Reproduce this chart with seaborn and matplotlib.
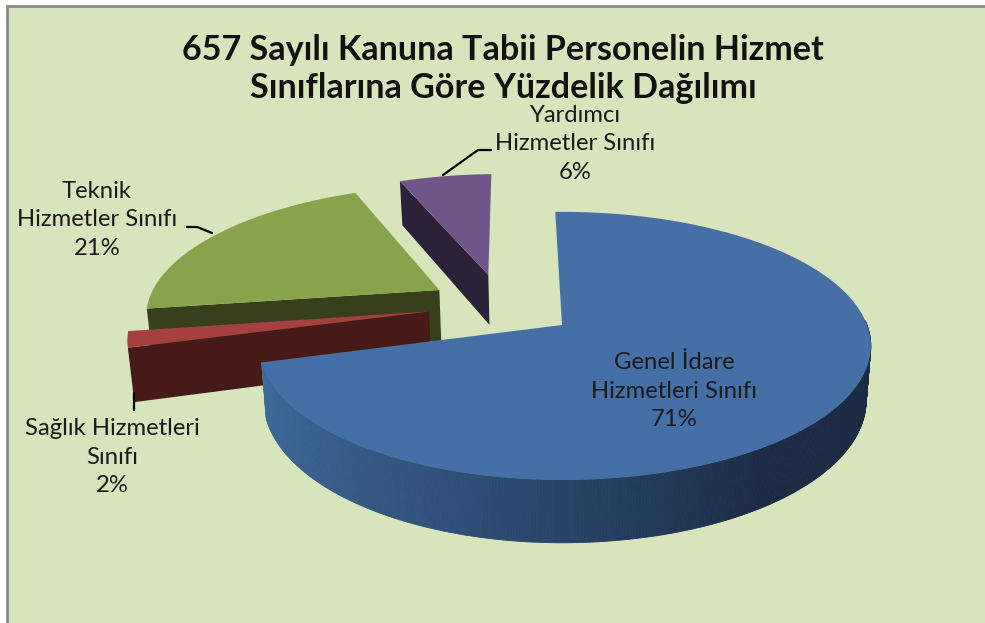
import numpy as np
import matplotlib
matplotlib.use('Agg')
import matplotlib.pyplot as plt
import seaborn as sns

# values in pie order, clockwise from the top
labels = ['Genel İdare\nHizmetleri Sınıfı', 'Sağlık Hizmetleri\nSınıfı', 'Teknik\nHizmetler Sınıfı', 'Yardımcı\nHizmetler Sınıfı']
values = [71, 2, 21, 6]
title = '657 Sayılı Kanuna Tabii Personelin Hizmet\nSınıflarına Göre Yüzdelik Dağılımı'

top_colors = ['#4470A6', '#A5403E', '#87A34C', '#705589']
side_colors = ['#3D6A9A', '#451A17', '#373F1B', '#2B2138']
explode = [(0, 0), (-0.452, 0.105), (-0.428, 0.279), (-0.262, 0.4065)]
label_pos = [(674, 391), (112, 457), (97, 220), (575, 144)]
leaders = [None, [(134, 393), (134, 410)], [(187, 227), (197, 227), (212, 233)], [(443, 175), (478, 150), (491, 150)]]

# perspective of the pie disc, left side is a bit narrower in the original
cx, cy = 562, 325
a_left, a_right = 299, 305
b = 130.8
k = 0.156
depth = 53
start = 91.5


def project(u, v, bottom=False):
    w = 1 + k * v
    x = np.where(u < 0, a_left, a_right) * u / w
    y = -b * v / w
    if bottom:
        y = y + depth / w
        x = x * 0.985
    return cx + x, cy + y


sns.set_theme(style='white')
plt.rcParams['font.family'] = ['Lato', 'DejaVu Sans']

fig = plt.figure(figsize=(9.85, 6.23), dpi=100)
ax = fig.add_axes([0, 0, 1, 1])
ax.set_xlim(0, 985)
ax.set_ylim(623, 0)
ax.axis('off')

ax.add_patch(plt.Rectangle((7, 6), 1000, 640, facecolor='#D8E4BC', edgecolor='#8A8A8A', linewidth=2))

# slice angles
sweeps = 360 * np.array(values) / sum(values)
starts = start - np.concatenate([[0], np.cumsum(sweeps)[:-1]])
ends = starts - sweeps

# far slices first, blue one last
for i in [3, 2, 1, 0]:
    ox, oy = explode[i]
    t = np.radians(np.linspace(starts[i], ends[i], 200))
    u = np.cos(t) + ox
    v = np.sin(t) + oy

    if i == 0:
        # curved front wall, gets darker to the right
        t0 = np.radians(np.arange(ends[0] % 360, 362, 0.5))
        shades = sns.blend_palette(['#3F6C9C', '#2F5078', '#1A2B44', '#1A2B44'], len(t0))
        for j in range(len(t0) - 1):
            uu = np.cos(t0[j:j + 2])
            vv = np.sin(t0[j:j + 2])
            x1, y1 = project(uu, vv)
            x2, y2 = project(uu, vv, bottom=True)
            ax.fill(np.r_[x1, x2[::-1]], np.r_[y1, y2[::-1]], color=shades[j], linewidth=0.6)
    else:
        # flat cut face along the first edge of the slice
        r = np.linspace(0, 1, 2)
        uu = ox + r * np.cos(t[0])
        vv = oy + r * np.sin(t[0])
        x1, y1 = project(uu, vv)
        x2, y2 = project(uu, vv, bottom=True)
        ax.fill(np.r_[x1, x2[::-1]], np.r_[y1, y2[::-1]], color=side_colors[i], linewidth=0)

    x, y = project(np.r_[ox, u], np.r_[oy, v])
    ax.fill(x, y, color=top_colors[i], linewidth=0)

for i in range(4):
    txt = labels[i] + '\n' + str(values[i]) + '%'
    ax.text(label_pos[i][0], label_pos[i][1], txt, ha='center', va='center', fontsize=17.2,
            linespacing=1.47, color='#1A1A1A')
    if leaders[i]:
        pts = np.array(leaders[i])
        ax.plot(pts[:, 0], pts[:, 1], color='black', linewidth=1.6)

ax.text(503, 69, title, ha='center', va='center', fontsize=24.6, fontweight='bold',
        linespacing=1.22, color='#111111')

fig.savefig('out.png', dpi=100)
